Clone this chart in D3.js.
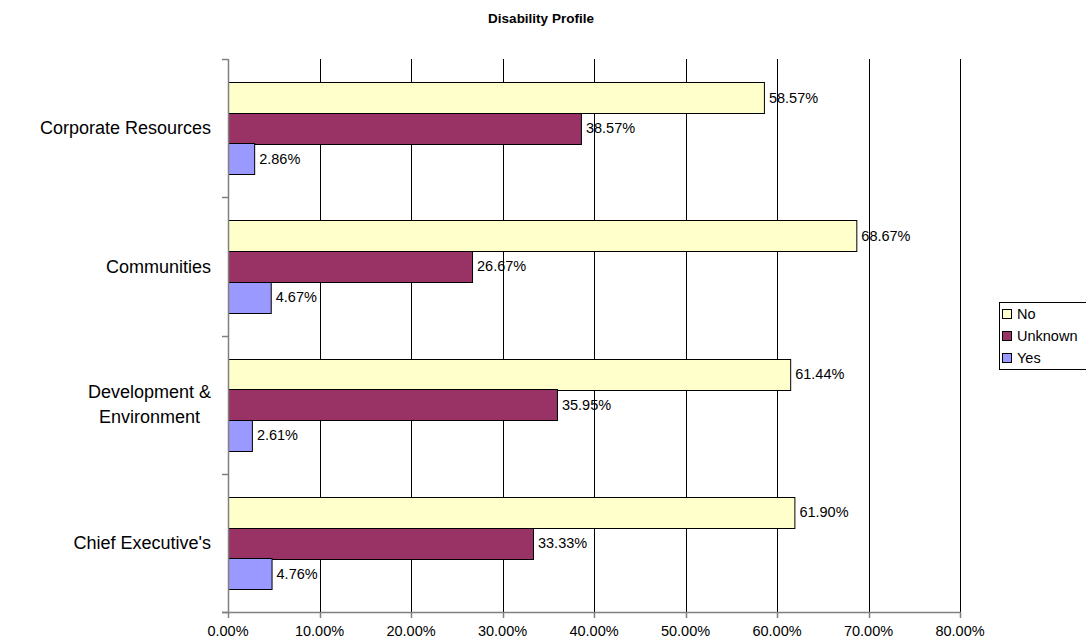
<!DOCTYPE html>
<html>
<head>
<meta charset="utf-8">
<script src="https://cdn.jsdelivr.net/npm/d3@7"></script>
<style>
  body { margin: 0; background: #fff; }
  text { font-family: "Liberation Sans", Arial, sans-serif; }
</style>
</head>
<body>
<div id="chart"></div>
<script>
// Data, top to bottom
const categories = ["Corporate Resources", "Communities", "Development & Environment", "Chief Executive's"];
const seriesNames = ["No", "Unknown", "Yes"];
const noValues = [58.57, 68.67, 61.44, 61.90];
const unknownValues = [38.57, 26.67, 35.95, 33.33];
const yesValues = [2.86, 4.67, 2.61, 4.76];
const xTicks = [0, 10, 20, 30, 40, 50, 60, 70, 80];

const colors = { "No": "#FFFFCC", "Unknown": "#993366", "Yes": "#9999FF" };
const seriesValues = { "No": noValues, "Unknown": unknownValues, "Yes": yesValues };

const width = 1086, height = 641;
const plot = { left: 228, right: 960, top: 59, bottom: 612 };

const svg = d3.select("#chart")
  .append("svg")
  .attr("width", width)
  .attr("height", height);

// Title
svg.append("text")
  .attr("x", 541)
  .attr("y", 23)
  .attr("text-anchor", "middle")
  .style("font-size", "13.5px")
  .style("font-weight", "bold")
  .text("Disability Profile");

const x = d3.scaleLinear().domain([0, 80]).range([plot.left, plot.right]);
const y = d3.scaleBand().domain(categories).range([plot.top, plot.bottom]);

// Three bars fill about two thirds of each band
const groupH = y.bandwidth() * 0.665;
const barH = groupH / 3;
const groupOffset = (y.bandwidth() - groupH) / 2;

// Vertical gridlines
svg.append("g")
  .selectAll("line")
  .data(xTicks.filter(d => d > 0))
  .join("line")
  .attr("x1", d => Math.round(x(d)) + 0.5)
  .attr("x2", d => Math.round(x(d)) + 0.5)
  .attr("y1", plot.top)
  .attr("y2", plot.bottom)
  .attr("stroke", "#000")
  .attr("stroke-width", 1);

// Bars
const rows = [];
categories.forEach((c, i) => {
  seriesNames.forEach((s, j) => {
    rows.push({ cat: c, series: s, value: seriesValues[s][i], j: j });
  });
});

svg.append("g")
  .selectAll("rect")
  .data(rows)
  .join("rect")
  .attr("x", x(0) + 0.5)
  .attr("y", d => Math.round(y(d.cat) + groupOffset + d.j * barH) + 0.5)
  .attr("width", d => x(d.value) - x(0))
  .attr("height", Math.round(barH))
  .attr("fill", d => colors[d.series])
  .attr("stroke", "#000")
  .attr("stroke-width", 1);

// Value labels
svg.append("g")
  .selectAll("text")
  .data(rows)
  .join("text")
  .attr("x", d => x(d.value) + 5)
  .attr("y", d => y(d.cat) + groupOffset + (d.j + 0.5) * barH)
  .attr("dy", "0.35em")
  .style("font-size", "14.5px")
  .text(d => d.value.toFixed(2) + "%");

// Y axis line and ticks
const axisColor = "#808080";
svg.append("line")
  .attr("x1", plot.left + 0.5).attr("x2", plot.left + 0.5)
  .attr("y1", plot.top).attr("y2", plot.bottom + 1)
  .attr("stroke", axisColor).attr("stroke-width", 1.5);

const boundaries = categories.map(c => y(c)).concat([plot.bottom]);
svg.append("g")
  .selectAll("line")
  .data(boundaries)
  .join("line")
  .attr("x1", plot.left - 6).attr("x2", plot.left)
  .attr("y1", d => Math.round(d) + 0.5).attr("y2", d => Math.round(d) + 0.5)
  .attr("stroke", axisColor).attr("stroke-width", 1.5);

// X axis line, ticks and labels
svg.append("line")
  .attr("x1", plot.left - 6).attr("x2", plot.right + 1)
  .attr("y1", plot.bottom + 0.5).attr("y2", plot.bottom + 0.5)
  .attr("stroke", axisColor).attr("stroke-width", 1.5);

svg.append("g")
  .selectAll("line")
  .data(xTicks)
  .join("line")
  .attr("x1", d => Math.round(x(d)) + 0.5).attr("x2", d => Math.round(x(d)) + 0.5)
  .attr("y1", plot.bottom).attr("y2", plot.bottom + 6)
  .attr("stroke", axisColor).attr("stroke-width", 1.5);

svg.append("g")
  .selectAll("text")
  .data(xTicks)
  .join("text")
  .attr("x", d => x(d))
  .attr("y", 636)
  .attr("text-anchor", "middle")
  .style("font-size", "14.5px")
  .text(d => d.toFixed(2) + "%");

// Category labels (multi-line labels centred on their block)
const catLines = {
  "Development & Environment": ["Development &", "Environment"]
};
categories.forEach(c => {
  const lines = catLines[c] || [c];
  const cy = y(c) + y.bandwidth() / 2;
  const t = svg.append("text")
    .style("font-size", "18px")
    .attr("text-anchor", "middle");
  lines.forEach((ln, k) => {
    t.append("tspan")
      .attr("x", 0)
      .attr("y", cy + (k - (lines.length - 1) / 2) * 25)
      .attr("dy", "0.35em")
      .text(ln);
  });
  // Right-align the block at x = 211
  const w = t.node().getBBox().width;
  t.selectAll("tspan").attr("x", 211 - w / 2);
});

// Legend
const legend = svg.append("g").attr("transform", "translate(999,302)");
legend.append("rect")
  .attr("x", 0.5).attr("y", 0.5)
  .attr("width", 100).attr("height", 67)
  .attr("fill", "#fff")
  .attr("stroke", "#000");
seriesNames.forEach((s, i) => {
  const ly = 12 + i * 22;
  legend.append("rect")
    .attr("x", 3.5).attr("y", ly - 4.5)
    .attr("width", 9).attr("height", 9)
    .attr("fill", colors[s])
    .attr("stroke", "#000");
  legend.append("text")
    .attr("x", 18)
    .attr("y", ly)
    .attr("dy", "0.35em")
    .style("font-size", "14.5px")
    .text(s);
});
</script>
</body>
</html>
